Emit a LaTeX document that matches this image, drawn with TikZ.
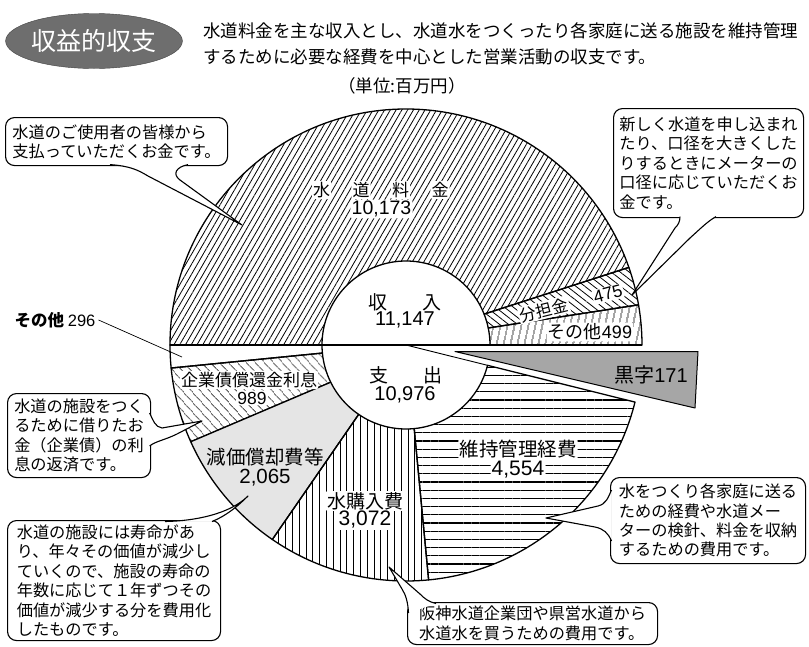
\documentclass[tikz,border=0pt]{standalone}
\usepackage{fontspec}
\setmainfont{Noto Sans CJK JP}
\newfontfamily\numfont{Liberation Sans}
\usepackage{tikz}
\usetikzlibrary{calc,patterns.meta,shapes.geometric}
\usepackage{xcolor}

% style, inner from, inner to, outer from, outer to
\newcommand{\ringpart}[5]{\path[#1] ($(O)+(#2:84)$) arc[start angle=#2,end angle=#3,radius=84pt] -- ($(O)+(#5:236)$) arc[start angle=#5,end angle=#4,radius=236pt] -- cycle;}

\begin{document}
\begin{tikzpicture}[x=1pt,y=1pt,
	pie/.style={draw,line width=1.3pt,line join=round},
	lbl/.style={inner sep=0pt,font=\fontsize{#1}{#1}\selectfont},
	num/.style={inner sep=0pt,font=\numfont\fontsize{#1}{#1}\selectfont},
	tag/.style={fill=white,inner sep=1.2pt,rounded corners=2pt},
	callout/.style={draw,fill=white,line width=1.1pt,rounded corners=9pt,inner sep=0pt,anchor=north west,align=left,font=\fontsize{16.2}{19.4}\selectfont},
	tail/.style={draw,fill=white,line width=1.1pt,line join=round}]
	\useasboundingbox (0,0) rectangle (809,-646);
	% heading
	\node[ellipse,draw=black!75,fill=black!57,minimum width=172pt,minimum height=55pt,inner sep=0pt,text=white,font=\fontsize{25}{25}\selectfont] (title) at (94,-41) {収益的収支};
	\node[anchor=west,lbl=17.5] (head1) at (203,-31) {水道料金を主な収入とし、水道水をつくったり各家庭に送る施設を維持管理};
	\node[anchor=west,lbl=17.5] (head2) at (203,-57) {するために必要な経費を中心とした営業活動の収支です。};
	\node[lbl=17.5] (unit) at (402,-86) {（単位:百万円）};

	% pie
	\coordinate (O) at (406,-345);
	\ringpart{pie,pattern={Lines[angle=78,distance=6.5pt,line width=0.8pt]}}{0}{11.7}{0}{9.8}
	\ringpart{pie,pattern={Lines[angle=-38,distance=5.5pt,line width=0.8pt]}}{11.7}{21.6}{9.8}{19.2}
	\ringpart{pie,pattern={Lines[angle=60,distance=5pt,line width=0.8pt]}}{21.6}{180}{19.2}{180}
	\ringpart{pie}{180}{185.5}{180}{185.6}
	\ringpart{pie,pattern={Lines[angle=-48,distance=6.5pt,line width=0.8pt]}}{185.5}{206.3}{185.6}{204.2}
	\ringpart{pie,fill=black!10}{206.3}{235.7}{204.2}{235.5}
	\ringpart{pie,pattern={Lines[angle=90,distance=6.8pt,line width=0.8pt]}}{235.7}{275.6}{235.5}{275.5}
	\ringpart{pie,pattern={Lines[angle=0,distance=8.2pt,line width=1.2pt]}}{275.6}{346}{275.5}{346}
	\draw[pie] ($(O)+(180:236)$) -- ($(O)+(0:236)$);
	\draw[line width=0.9pt] (O) -- ($(O)+(346:84)$);

	\foreach \ch [count=\i] in {水,道,料,金}
		\node[lbl=17,tag] (water\i) at (321.5+39.5*\i-39.5,-190) {\ch};
	\node[num=19.5,tag] (waterv) at (381.5,-209) {10,173};
	\node[lbl=19] (inc) at (405,-302) {収\hspace{36pt}入};
	\node[num=20] (incv) at (405,-320) {11,147};
	\node[lbl=16.5,tag,rotate=14] (share) at (544,-310) {分担金};
	\node[num=17.5,tag,rotate=15] (sharev) at (608,-294) {475};
	\node[lbl=18,tag] (othin) at (590,-332) {その他{\numfont 499}};
	\node[lbl=19] (exp) at (406,-375) {支\hspace{36pt}出};
	\node[num=20] (expv) at (405,-395) {10,976};
	\node[lbl=17,tag] (bond) at (249,-380) {企業債償還金利息};
	\node[num=17.5,tag] (bondv) at (252,-398) {989};
	\node[lbl=19.5] (depr) at (265,-457) {減価償却費等};
	\node[num=20.5] (deprv) at (265,-478) {2,065};
	\node[lbl=19,tag] (buy) at (365,-501) {水購入費};
	\node[num=21,tag] (buyv) at (365,-520) {3,072};
	\node[lbl=19.5,tag] (mnt) at (518,-449) {維持管理経費};
	\node[num=21,tag] (mntv) at (518,-470) {4,554};

	\draw[fill=black!35,line width=1pt,line join=round] (455,-351.5) -- (698,-351.5) -- (695,-408) -- cycle;
	\node[lbl=20] (surp) at (651,-375) {黒字{\numfont 171}};

	\node[lbl=16.5,inner sep=3pt] (othout) at (55,-320) {\textbf{その他} {\numfont 296}};
	\coordinate (othpt) at (182,-357);
	\draw[line width=0.7pt] (othout.east) -- (othpt);

	% callouts
	\node[callout,minimum width=222pt,minimum height=48pt] (cUser) at (5,-117) {水道のご使用者の皆様から\\支払っていただくお金です。};
	\coordinate (tUser) at (242,-225);
	\path[tail] ([shift={(105,1.5)}]cUser.south west) .. controls (130,-166) and (138,-170) .. (148,-176) -- (tUser) -- (180,-180) .. controls (172,-174) and (176,-167) .. ([shift={(183,1.5)}]cUser.south west);

	\node[callout,minimum width=190pt,minimum height=109pt] (cShare) at (613,-108) {新しく水道を申し込まれ\\たり、口径を大きくした\\りするときにメーターの\\口径に応じていただくお\\金です。};
	\coordinate (tShare) at (632,-295);
	\path[tail] ([shift={(67,1.5)}]cShare.south west) .. controls (680,-222) and (678,-225) .. (675,-228) -- (tShare) -- (690,-238) .. controls (700,-229) and (708,-221) .. ([shift={(103,1.5)}]cShare.south west);

	\node[callout,minimum width=143pt,minimum height=84pt] (cBond) at (7,-393) {水道の施設をつく\\るために借りたお\\金（企業債）の利\\息の返済です。};
	\coordinate (tBond) at (202,-421);
	\path[tail] ([shift={(-1.5,-20)}]cBond.north east) .. controls (153,-420) and (155,-427) .. (162,-428) -- (tBond) -- (177,-434) .. controls (165,-440) and (156,-441) .. ([shift={(-1.5,-53)}]cBond.north east);

	\node[callout,minimum width=213pt,minimum height=120pt] (cDepr) at (7,-520) {水道の施設には寿命があ\\り、年々その価値が減少し\\ていくので、施設の寿命の\\年数に応じて１年ずつその\\価値が減少する分を費用化\\したものです。};
	\coordinate (tDepr) at (248,-496);
	\path[tail] ([shift={(158,-1.5)}]cDepr.north west) .. controls (195,-521) and (230,-514) .. (tDepr) .. controls (238,-506) and (226,-516) .. ([shift={(205,-1.5)}]cDepr.north west);

	\node[callout,minimum width=195pt,minimum height=86pt] (cMnt) at (610,-477) {水をつくり各家庭に送る\\ための経費や水道メー\\ターの検針、料金を収納\\するための費用です。};
	\coordinate (tMnt) at (546,-518);
	\path[tail] ([shift={(1.5,-13)}]cMnt.north west) .. controls (608,-498) and (606,-504) .. (598,-506) -- (tMnt) -- (595,-527) .. controls (604,-529) and (608,-533) .. ([shift={(1.5,-64)}]cMnt.north west);

	\node[callout,minimum width=250pt,minimum height=42pt] (cBuy) at (407,-602) {阪神水道企業団や県営水道から\\水道水を買うための費用です。};
	\coordinate (tBuy) at (389,-567);
	\path[tail] ([shift={(1.5,-11)}]cBuy.north west) .. controls (408,-603) and (406,-595) .. (402,-589) -- (tBuy) -- (420,-594) .. controls (425,-599) and (429,-602) .. ([shift={(29,-1.5)}]cBuy.north west);
\end{tikzpicture}
\end{document}
